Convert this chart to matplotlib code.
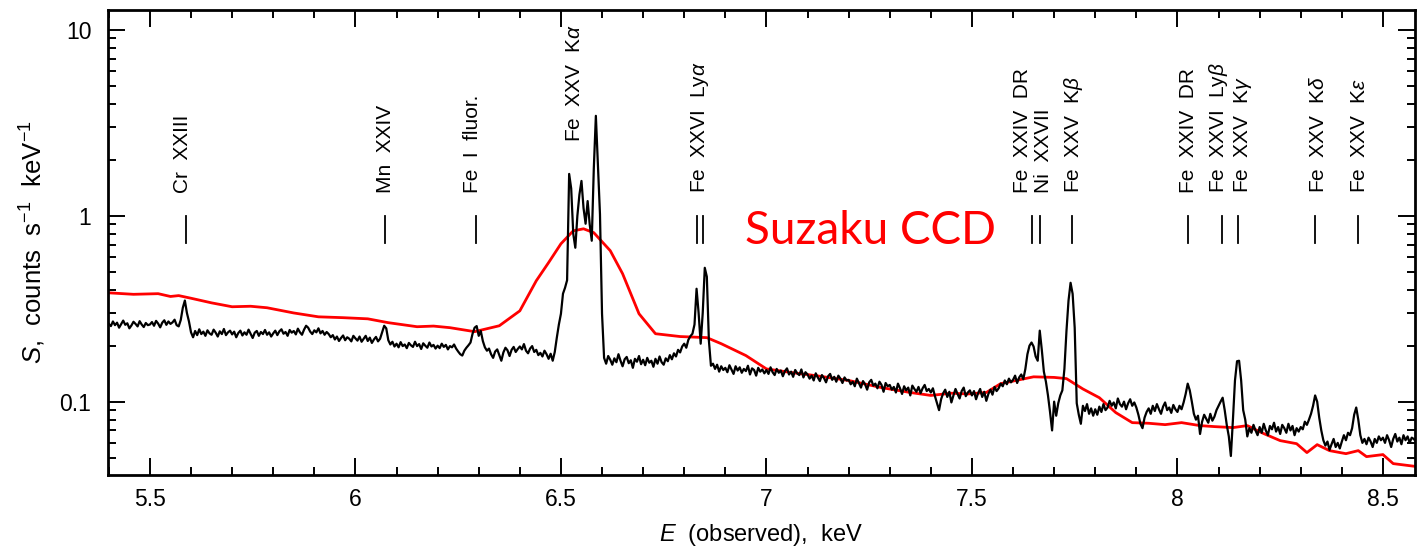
import numpy as np
import matplotlib
matplotlib.use("Agg")
import matplotlib.pyplot as plt
from matplotlib.ticker import FixedLocator, NullFormatter, LogLocator, FixedFormatter

plt.rcParams['font.family'] = ['Liberation Sans', 'DejaVu Sans']
plt.rcParams['mathtext.fontset'] = 'custom'
plt.rcParams['mathtext.it'] = 'Liberation Sans:italic'
plt.rcParams['mathtext.rm'] = 'Liberation Sans'

# high-resolution spectrum, 5 eV bins starting at 5.400 keV, in 1e-3 counts/s/keV
e_start = 5.400
e_step = 0.005
flux_milli = [
    262, 255, 270, 258, 266, 250, 261, 273, 259, 264, 248, 257, 269, 262, 254, 271, 260, 252, 265, 258,
    260, 268, 256, 272, 263, 251, 266, 274, 259, 270, 262, 267, 276, 258, 254, 275, 320, 350, 300, 270,
    236, 222, 240, 228, 245, 231, 238, 226, 242, 233, 229, 244, 235, 224, 239, 231, 246, 228, 236, 241,
    230, 238, 222, 234, 241, 227, 236, 229, 244, 232, 220, 235, 240, 226, 237, 231, 243, 229, 236, 224,
    233, 241, 228, 239, 245, 232, 237, 226, 243, 235, 240, 230, 247, 236, 229, 244, 256, 250, 238, 231,
    242, 236, 248, 233, 240, 229, 237, 231, 222, 228, 216, 224, 212, 220, 227, 214, 222, 218, 211, 226,
    219, 213, 224, 210, 218, 226, 212, 221, 207, 216, 223, 211, 218, 236, 256, 248, 214, 203, 210, 198,
    205, 196, 209, 199, 203, 194, 207, 201, 197, 210, 199, 204, 192, 206, 200, 195, 208, 198, 202, 193,
    200, 194, 205, 197, 202, 191, 199, 196, 203, 193, 186, 180, 177, 188, 195, 201, 208, 232, 250, 255,
    226, 240, 212, 196, 188, 193, 180, 172, 186, 191, 178, 166, 184, 195, 189, 176, 190, 197, 185, 192,
    198, 191, 204, 188, 182, 193, 199, 185, 190, 178, 183, 175, 188, 180, 170, 181, 166, 185, 221, 260,
    297, 381, 410, 450, 1680, 1400, 800, 673, 1000, 1300, 1540, 1100, 906, 1200, 900, 734, 1800, 3450, 1900, 1020,
    297, 172, 160, 176, 168, 158, 171, 163, 180, 166, 155, 169, 174, 161, 167, 152, 170, 164, 176, 159,
    168, 157, 172, 162, 166, 154, 170, 160, 175, 163, 158, 171, 165, 178, 169, 182, 175, 190, 184, 198,
    205, 195, 215, 225, 232, 260, 405, 300, 205, 300, 525, 470, 213, 156, 160, 150, 158, 145, 155, 148,
    152, 144, 157, 149, 141, 155, 147, 153, 143, 150, 146, 156, 140, 151, 148, 138, 152, 145, 149, 142,
    148, 141, 153, 144, 139, 150, 143, 147, 137, 146, 151, 140, 145, 136, 148, 142, 139, 149, 135, 144,
    140, 133, 138, 130, 142, 135, 129, 139, 134, 127, 137, 141, 131, 136, 128, 138, 133, 126, 135, 130,
    131, 124, 128, 121, 133, 126, 119, 129, 124, 116, 127, 131, 122, 125, 118, 128, 123, 113, 126, 121,
    123, 116, 120, 112, 125, 118, 110, 121, 115, 119, 108, 122, 117, 113, 120, 111, 118, 123, 114, 117,
    112, 118, 107, 98, 90, 103, 111, 116, 106, 113, 99, 108, 117, 110, 104, 114, 119, 107, 112, 115,
    108, 114, 103, 111, 117, 106, 113, 101, 110, 116, 109, 120, 114, 118, 125, 121, 130, 124, 133, 127,
    131, 138, 126, 135, 140, 132, 150, 180, 200, 208, 198, 175, 166, 241, 190, 145, 128, 108, 88, 70,
    100, 84, 98, 108, 115, 150, 240, 350, 436, 380, 250, 98, 85, 76, 95, 89, 97, 86, 92, 84,
    91, 85, 94, 88, 97, 90, 93, 101, 95, 99, 92, 104, 97, 94, 100, 91, 98, 103, 95, 99,
    93, 85, 76, 72, 82, 88, 92, 86, 95, 89, 97, 91, 86, 94, 99, 90, 93, 87, 96, 91,
    88, 95, 91, 99, 110, 125, 115, 100, 86, 80, 84, 67, 78, 85, 81, 77, 86, 79, 83, 90,
    95, 100, 105, 90, 75, 65, 51, 80, 130, 165, 166, 130, 90, 80, 65, 72, 68, 75, 70, 66,
    73, 68, 76, 70, 66, 74, 71, 77, 69, 73, 67, 75, 72, 68, 76, 70, 74, 66, 72, 69,
    73, 71, 78, 75, 80, 86, 95, 108, 100, 82, 70, 62, 58, 61, 55, 59, 63, 57, 60, 56,
    61, 66, 62, 68, 66, 72, 85, 93, 80, 66, 60, 63, 59, 64, 61, 57, 63, 60, 65, 62,
    64, 60, 66, 62, 57, 63, 67, 61, 64, 59, 66, 62, 65, 60, 64, 63, 61,
]

# Suzaku CCD model curve
suzaku_e = [5.40, 5.46, 5.52, 5.55, 5.57, 5.60, 5.65, 5.70, 5.745, 5.785, 5.85, 5.91, 5.97, 6.03, 6.08,
            6.15, 6.19, 6.23, 6.29, 6.35, 6.40, 6.44, 6.47, 6.50, 6.53, 6.555, 6.58, 6.62, 6.65, 6.69,
            6.73, 6.79, 6.855, 6.89, 6.95, 7.00, 7.065, 7.12, 7.20, 7.28, 7.35, 7.40, 7.45, 7.49, 7.535,
            7.57, 7.65, 7.70, 7.73, 7.77, 7.81, 7.85, 7.89, 7.93, 7.97, 8.01, 8.055, 8.09, 8.135, 8.17,
            8.21, 8.25, 8.29, 8.315, 8.34, 8.37, 8.41, 8.44, 8.46, 8.50, 8.525, 8.58]
suzaku_s = [0.385, 0.378, 0.381, 0.368, 0.372, 0.360, 0.340, 0.324, 0.326, 0.320, 0.300, 0.286, 0.283, 0.279, 0.266,
            0.253, 0.255, 0.250, 0.238, 0.256, 0.308, 0.447, 0.560, 0.707, 0.830, 0.851, 0.811, 0.649, 0.488, 0.297,
            0.232, 0.224, 0.221, 0.205, 0.177, 0.150, 0.143, 0.138, 0.130, 0.119, 0.112, 0.108, 0.111, 0.110, 0.112,
            0.125, 0.136, 0.135, 0.133, 0.117, 0.105, 0.0873, 0.0771, 0.0765, 0.0752, 0.0771, 0.0743, 0.0734, 0.0725, 0.0743,
            0.0673, 0.0617, 0.0594, 0.0532, 0.0587, 0.0545, 0.0525, 0.0545, 0.0506, 0.0519, 0.0464, 0.0448]

# line identifications: label, label position (keV), marker positions (keV)
line_labels = ["Cr  XXIII", "Mn  XXIV", "Fe  I  fluor.", r"Fe  XXV  K$\alpha$", r"Fe  XXVI  Ly$\alpha$",
               "Fe  XXIV  DR", "Ni  XXVII", r"Fe  XXV  K$\beta$", "Fe  XXIV  DR", r"Fe  XXVI  Ly$\beta$",
               r"Fe  XXV  K$\gamma$", r"Fe  XXV  K$\delta$", r"Fe  XXV  K$\epsilon$"]
label_e = [5.580, 6.072, 6.285, 6.534, 6.838, 7.622, 7.673, 7.746, 8.026, 8.099, 8.159, 8.342, 8.444]
marker_e = [[5.587], [6.072], [6.293], [], [6.831, 6.845], [7.646], [7.665], [7.743], [8.026], [8.108],
            [8.147], [8.334], [8.439]]
label_bottom = [0.606, 0.606, 0.606, 0.716, 0.606, 0.606, 0.606, 0.606, 0.606, 0.606, 0.606, 0.606, 0.606]

flux = np.array(flux_milli) / 1000.0
energy = e_start + e_step * np.arange(len(flux))

fig = plt.figure(figsize=(14.24, 5.5), dpi=100)
ax = fig.add_axes([108 / 1424, 1 - 475 / 550, (1415 - 108) / 1424, (475 - 10) / 550])

ax.plot(suzaku_e, suzaku_s, color='red', lw=2.0, zorder=2)
ax.plot(energy, flux, color='black', lw=1.6, zorder=3)

ax.set_yscale('log')
ax.set_xlim(5.398, 8.578)
ax.set_ylim(0.0403, 12.8)

trans = ax.get_xaxis_transform()
for lab, le, marks, yb in zip(line_labels, label_e, marker_e, label_bottom):
    ax.text(le, yb, lab, rotation=90, ha='center', va='bottom', fontsize=15, transform=trans)
    for m in marks:
        ax.plot([m, m], [0.499, 0.557], color='black', lw=1.3, transform=trans)

ax.text(7.252, 0.497, "Suzaku CCD", color='red', fontsize=33, family='Lato',
        ha='center', va='baseline', transform=trans)

ax.xaxis.set_major_locator(FixedLocator([5.5, 6, 6.5, 7, 7.5, 8, 8.5]))
ax.xaxis.set_major_formatter(FixedFormatter(["5.5", "6", "6.5", "7", "7.5", "8", "8.5"]))
ax.xaxis.set_minor_locator(FixedLocator(np.round(np.arange(5.4, 8.58, 0.1), 2)))
ax.yaxis.set_major_locator(FixedLocator([0.1, 1, 10]))
ax.yaxis.set_major_formatter(FixedFormatter(["0.1", "1", "10"]))
ax.yaxis.set_minor_locator(LogLocator(base=10, subs=np.arange(2, 10)))
ax.yaxis.set_minor_formatter(NullFormatter())

ax.tick_params(which='both', direction='in', top=True, right=True, width=1.4)
ax.tick_params(which='major', length=12.5, labelsize=16.5)
ax.tick_params(which='minor', length=6)
ax.tick_params(axis='x', pad=9)
ax.tick_params(axis='y', pad=12)
for s in ax.spines.values():
    s.set_linewidth(2)

ax.set_xlabel(r"$E$  (observed),  keV", fontsize=17, labelpad=8)
ax.set_ylabel(r"$S$,  counts  s$^{-1}$  keV$^{-1}$", fontsize=18.5, labelpad=8)

fig.savefig("out.png", dpi=100)
